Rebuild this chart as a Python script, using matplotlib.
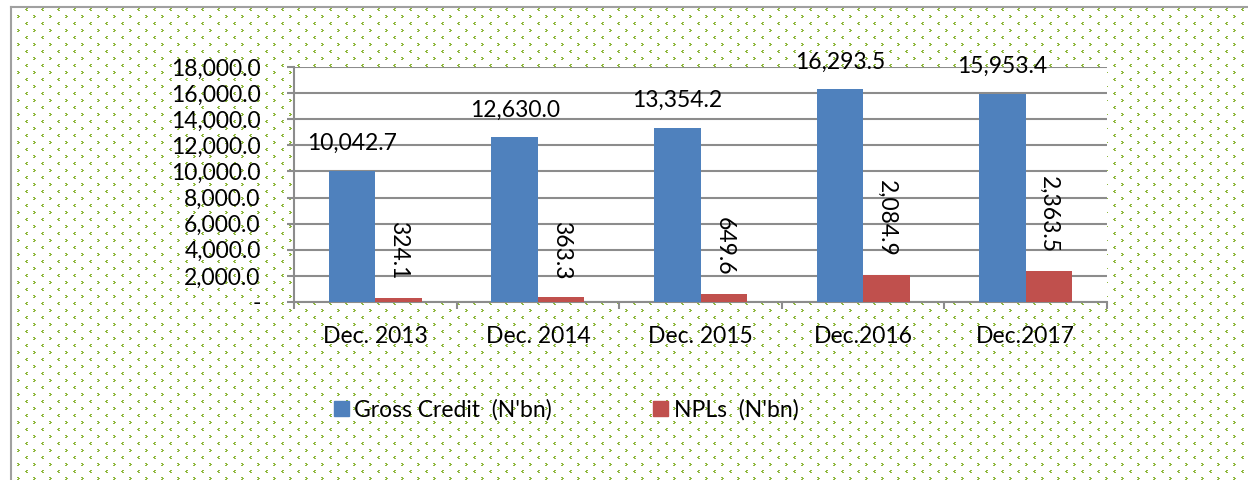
import numpy as np
import matplotlib.pyplot as plt
from matplotlib.patches import Patch
from matplotlib.ticker import FuncFormatter, MultipleLocator

# chart values
periods = ['Dec. 2013', 'Dec. 2014', 'Dec. 2015', 'Dec.2016', 'Dec.2017']
gross_credit = [10042.7, 12630.0, 13354.2, 16293.5, 15953.4]
npls = [324.1, 363.3, 649.6, 2084.9, 2363.5]

blue = '#4F81BD'
red = '#C0504D'
grid_grey = '#8C8C8C'

plt.rcParams['font.family'] = ['Lato', 'DejaVu Sans']
fs = 16.5

W, H = 1248, 480
fig = plt.figure(figsize=(W / 100, H / 100), dpi=100)

# dotted green background pattern inside the chart frame
bg = np.ones((H, W, 3))
green = np.array([0x8F, 0xB8, 0x3E]) / 255.0
tile = np.zeros((14, 16), dtype=bool)
for dx, dy in [(0, 0), (1, 0), (1, 1), (2, 1), (0, 2), (1, 2)]:      # ">"
    tile[1 + dy, 1 + dx] = True
for dx, dy in [(1, 0), (2, 0), (0, 1), (1, 1), (1, 2), (2, 2)]:      # "<"
    tile[8 + dy, 9 + dx] = True
mask = np.tile(tile, (H // 14 + 1, W // 16 + 1))[:H, :W]
mask[:8, :] = False
mask[:, :12] = False
bg[mask] = green
fig.figimage(bg[::-1], xo=0, yo=0, origin='lower', zorder=-10)

# frame lines (left and top)
fig.add_artist(plt.Line2D([11 / W, 11 / W], [0, 1 - 7 / H], color='#A0A0A0', lw=1.5,
                          transform=fig.transFigure))
fig.add_artist(plt.Line2D([11 / W, 1], [1 - 7 / H, 1 - 7 / H], color='#A0A0A0', lw=1.5,
                          transform=fig.transFigure))

ax = fig.add_axes([294 / W, 1 - 302 / H, (1107 - 294) / W, (302 - 67) / H])
ax.set_facecolor('white')

x = np.arange(len(periods))
bw = 0.286
b1 = ax.bar(x - bw / 2, gross_credit, bw, color=blue, zorder=3)
b2 = ax.bar(x + bw / 2, npls, bw, color=red, zorder=3)

for rect, v in zip(b1, gross_credit):
    ax.annotate(f'{v:,.1f}', (rect.get_x() + rect.get_width() / 2, v),
                xytext=(0, 19.5), textcoords='offset points',
                ha='center', va='center', fontsize=fs, annotation_clip=False)
for rect, v in zip(b2, npls):
    ax.annotate(f'{v:,.1f}', (rect.get_x() + rect.get_width() / 2, v),
                xytext=(0, 13), textcoords='offset points',
                ha='center', va='bottom', rotation=270, fontsize=fs,
                annotation_clip=False)

ax.set_xlim(-0.5, len(periods) - 0.5)
ax.set_ylim(0, 18000)
ax.yaxis.set_major_locator(MultipleLocator(2000))
ax.yaxis.set_major_formatter(FuncFormatter(lambda v, p: '-' if v == 0 else f'{v:,.1f}'))
ax.grid(axis='y', color=grid_grey, lw=1.5, zorder=0)

ax.set_xticks(x)
ax.set_xticklabels(periods)
ax.set_xticks(np.arange(len(periods) + 1) - 0.5, minor=True)
ax.tick_params(axis='x', which='major', length=0, pad=17, labelsize=fs)
ax.tick_params(axis='x', which='minor', length=5, color=grid_grey, width=1.5)
ax.tick_params(axis='y', length=5, color=grid_grey, width=1.5, pad=19, labelsize=fs)

for s in ['top', 'right']:
    ax.spines[s].set_visible(False)
for s in ['left', 'bottom']:
    ax.spines[s].set_color(grid_grey)
    ax.spines[s].set_linewidth(1.5)

handles = [Patch(color=blue, label="Gross Credit  (N'bn)"),
           Patch(color=red, label="NPLs  (N'bn)")]
fig.legend(handles=handles, loc='center', bbox_to_anchor=(566 / W, 1 - 410 / H),
           ncol=2, frameon=False, fontsize=fs, handlelength=0.65, handleheight=0.65,
           handletextpad=0.25, columnspacing=4.4)

fig.savefig('out.png', dpi=100)
